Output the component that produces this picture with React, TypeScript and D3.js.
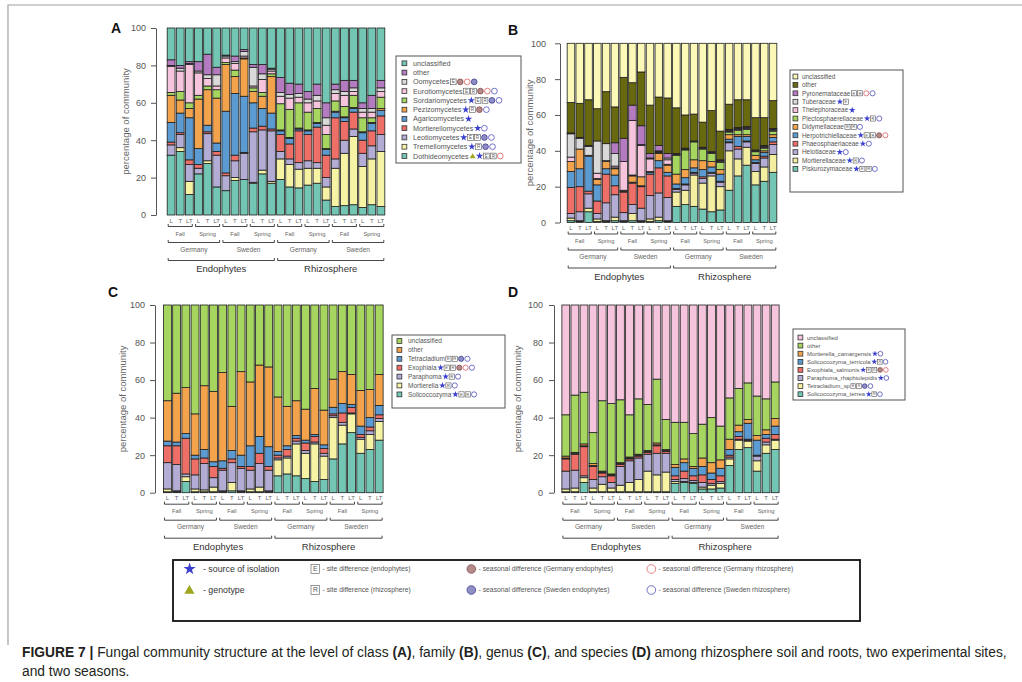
import React, { useEffect, useRef } from "react";
import * as d3 from "d3";

const W = 1022;
const H = 682;
const FONT = "'Liberation Sans', Arial, Helvetica, sans-serif";

// Sample hierarchy: compartment > site > season > tissue
const tissues = ["L", "T", "LT"];
const seasons = ["Fall", "Spring"];
const sites = ["Germany", "Sweden"];
const compartments = ["Endophytes", "Rhizosphere"];
const yTicks = [0, 20, 40, 60, 80, 100];

// Palette
const teal = "#72c6b3";
const yellow = "#f7f3a4";
const lavender = "#b3acd4";
const red = "#ee6f67";
const blue = "#5b9bd1";
const orange = "#f4a34d";
const green = "#a6d560";
const pink = "#f6c4dc";
const lightGray = "#d9d9d9";
const purple = "#b57bc0";
const olive = "#68680e";
const paleYellow = "#fbf8b8";

// ---- A: class level (relative abundance, %) ----
const dothideomycetes = [32, 34, 11, 22, 27.5, 15, 13, 18.5, 19, 17, 22, 17, 19, 15, 14.5, 16, 17, 8, 4.5, 5, 5.5, 4, 5.5, 4.5];
const tremellomycetes = [0, 2, 7, 0, 1.5, 0, 0, 1.5, 0, 0.5, 2, 1, 11, 12, 10, 9, 8, 7, 20.5, 28, 36.5, 22, 24.5, 29.5];
const leotiomycetes = [5.5, 7, 9, 3, 14.5, 17, 8, 9, 14, 27, 21.5, 27, 4, 3, 3.5, 4, 3, 5, 5, 7, 4, 7, 7, 9];
const mortierellomycetes = [1.5, 1, 2.5, 2, 1, 2, 1.5, 3, 0.5, 2, 2, 1, 9, 8, 17, 14, 19, 12, 22, 10, 9, 7, 8, 10];
const agaricomycetes = [10.5, 10.5, 22.5, 8.5, 3.5, 4.5, 33, 33, 30, 13.5, 9.5, 8.5, 2, 3, 1, 2, 2, 3, 3, 2, 2, 4, 4, 3];
const pezizomycetes = [14.5, 7, 5, 26.5, 19, 24, 25, 9, 20, 6, 6.5, 19.5, 0.5, 0.5, 0.5, 0.5, 0.5, 0.5, 0.5, 0.5, 0.5, 0.5, 0.5, 1];
const sordariomycetes = [1.5, 4.5, 3, 2, 2, 4.5, 1, 3.5, 0.5, 2, 2, 1.5, 14, 15, 13.5, 9.5, 7.5, 7.5, 5.5, 5.5, 6.5, 7.5, 2.5, 6];
const eurotiomycetes = [14, 11, 20.5, 12, 4, 2, 2.5, 3.5, 1, 1, 7, 1.5, 4, 6, 3, 5, 4, 5, 4, 6, 2, 3, 3, 3];
const oomycetes = [0.5, 1.5, 0.5, 1, 2, 6, 1, 1, 2.5, 10, 3, 1, 2, 2, 2, 2, 3, 4, 2, 2, 2, 2, 2, 2];
const otherClass = [3, 1.5, 1, 5, 11, 4, 0.5, 3, 1, 1.5, 5, 0.5, 8, 6, 5, 4, 6, 8, 3, 6, 4, 3, 7, 4];
const unclassifiedClass = [17, 20, 18, 18, 14, 21, 14.5, 15, 11.5, 19.5, 19.5, 21.5, 26.5, 29.5, 30, 34, 30, 40, 30, 28, 28, 40, 36, 28];

// ---- B: family level ----
const piskurozymaceae = [1, 0.5, 6, 0.5, 0.5, 1, 0.5, 1, 0.5, 0.5, 1, 0.5, 9, 10, 9, 7.5, 6, 7, 18, 26, 32, 21, 23, 28];
const mortierellaceae = [1.5, 0.5, 2, 1.5, 0.5, 2, 0.5, 4, 0.5, 1.5, 2, 0.5, 8, 8, 17.5, 14.5, 20, 13, 22, 9.5, 10, 7.5, 8, 10];
const helotiaceae = [2.5, 5, 8, 3, 10, 12.5, 4.5, 5, 7, 13, 13.5, 13, 1.5, 3, 1, 2.5, 1.5, 2.5, 4.5, 5.5, 3, 4.5, 5, 5.5];
const phaeosphaeriaceae = [14.5, 14, 1.5, 7, 16, 5, 11.5, 12, 12, 12, 14, 12, 0.5, 0.5, 0.5, 1, 0.5, 0.5, 0.5, 1.5, 0.5, 0.5, 1, 1.5];
const herpotrichiellaceae = [9, 10, 19.5, 9, 3, 6, 0.5, 0.5, 0.5, 1, 4, 2, 2.5, 3.5, 2.5, 4, 3, 4, 1.5, 5.5, 2.5, 1.5, 2, 2.5];
const didymellaceae = [5.5, 11, 0.5, 3, 4, 3.5, 0.5, 3.5, 5, 0.5, 4, 4, 5.5, 4.5, 4.5, 5, 3, 2.5, 2.5, 1, 1, 2.5, 1, 1.5];
const plectosphaerellaceae = [0, 0, 0, 0.5, 0, 0.5, 0, 0.5, 0, 0, 0.5, 0.5, 10.5, 11, 10, 6.5, 4.5, 4, 1.5, 2.5, 3, 2, 1.5, 2];
const thelephoraceae = [2.5, 0, 0, 3, 0.5, 1, 16, 30.5, 17.5, 7, 0.5, 2.5, 0.5, 0.5, 0, 0.5, 0.5, 0.5, 0.5, 0.5, 0.5, 0.5, 0.5, 0.5];
const tuberaceae = [13, 6, 5, 18, 9.5, 7, 0, 0, 0.5, 0.5, 0.5, 1, 0, 0, 0, 0, 0, 0.5, 0.5, 0.5, 0.5, 0.5, 0.5, 0.5];
const pyronemataceae = [0.5, 0.5, 0.5, 0, 0, 6, 13, 8.5, 10.5, 2.5, 3, 2.5, 0.5, 0.5, 0.5, 0.5, 0.5, 0.5, 0.5, 0.5, 0.5, 0, 0.5, 0.5];
const otherFamily = [17, 19, 25.5, 18, 29, 20, 34, 12.5, 30, 27, 27, 31, 25.5, 18.5, 15, 14, 23, 16, 14, 15.5, 15, 18, 15.5, 15.5];
const unclassifiedFamily = [33, 33.5, 31.5, 36.5, 27, 35.5, 19, 22, 16, 34.5, 30, 30.5, 36, 40, 39.5, 44, 37.5, 49, 34, 31.5, 31.5, 41.5, 41.5, 32];

// ---- C: genus level ----
const solicoccozyma = [0.5, 0.5, 6, 0.5, 0.5, 0.5, 0.5, 1, 0.5, 0.5, 0.5, 0.5, 9, 10, 9, 7.5, 6, 7, 18, 26, 32, 21, 23, 28];
const mortierella = [1.5, 0.5, 2.5, 1.5, 1, 2.5, 0.5, 4.5, 0.5, 1.5, 2.5, 0.5, 8.5, 8.5, 17, 13.5, 20, 12.5, 22, 10, 10, 7.5, 8, 10];
const paraphoma = [14, 14, 1.5, 7.5, 14, 5, 11, 10.5, 12, 10, 12.5, 11, 1, 1, 1.5, 1.5, 1, 1.5, 1, 1.5, 0.5, 1, 2, 1.5];
const exophiala = [9, 10, 19, 8.5, 3, 6, 1, 2, 1, 2, 5.5, 2, 1.5, 3.5, 1.5, 4, 3, 2.5, 1, 5, 3, 1.5, 2, 2];
const tetracladium = [2.5, 2, 2.5, 2, 4.5, 2.5, 4, 4.5, 6, 11, 9, 10.5, 2, 2, 1.5, 1.5, 1, 2, 3.5, 5, 1.5, 4.5, 5, 5];
const otherGenus = [21.5, 26, 24.5, 22, 34, 37.5, 47, 23.5, 44.5, 34, 38, 42.5, 29, 21, 18.5, 16.5, 24.5, 18.5, 15, 17, 16, 19, 15, 16.5];
const unclassifiedGenus = [51, 47, 44, 58, 43, 46, 36, 54, 35.5, 41, 32, 33, 49, 54, 51, 55.5, 44.5, 56, 39.5, 35.5, 37, 45.5, 45, 37];

// ---- D: species level ----
const solicoccozymaTerrea = [0.5, 0.5, 5.5, 0.5, 0.5, 0.5, 0.5, 0.5, 0.5, 0.5, 0.5, 0.5, 5, 5.5, 5, 2, 2, 2.5, 14.5, 23, 24, 11.5, 21, 23];
const tetracladiumSp = [1.5, 2, 2.5, 2, 4, 2, 3.5, 5, 6.5, 11, 9, 10.5, 1, 0.5, 0.5, 1, 2, 2.5, 3.5, 5, 3.5, 5.5, 4.5, 5];
const paraphomaRhaphiolepidis = [9.5, 9.5, 1, 4.5, 4, 3, 10, 11.5, 11.5, 9, 11.5, 10, 1, 1.5, 1, 2.5, 1, 1, 1, 0.5, 0.5, 2.5, 1.5, 0.5];
const exophialaSalmonis = [6.5, 8.5, 15.5, 7, 2, 3.5, 1, 1, 1, 1, 4, 1, 2, 4, 2.5, 4, 2, 3, 1, 1.5, 0.5, 0.5, 2, 2.5];
const solicoccozymaTerricola = [0.5, 0.5, 0.5, 0.5, 0.5, 0.5, 0.5, 0.5, 0.5, 0.5, 0.5, 0.5, 4.5, 4.5, 4, 4.5, 3.5, 4, 3, 2.5, 8.5, 8, 2, 4.5];
const mortierellaCamargensis = [1, 0.5, 1, 1, 0.5, 0.5, 0.5, 0.5, 0.5, 0.5, 1, 0.5, 1.5, 2, 1, 4.5, 5.5, 4.5, 5.5, 3.5, 2, 2.5, 2.5, 4];
const otherSpecies = [22, 30.5, 27.5, 16.5, 37.5, 37.5, 33.5, 22.5, 29.5, 24.5, 34, 16, 22.5, 19.5, 17.5, 18, 24, 18, 22, 19.5, 19.5, 21, 16.5, 19.5];
const unclassifiedSpecies = [58.5, 48, 46.5, 68, 51, 52.5, 50.5, 58.5, 50, 53, 39.5, 61, 62.5, 62.5, 68.5, 63.5, 60, 64.5, 49.5, 44.5, 41.5, 48.5, 50, 41];

// Significance marks: star = source of isolation, tri = genotype,
// E / R = site difference, gE / sE / gR / sR = seasonal differences
type Mark = "star" | "tri" | "E" | "R" | "gE" | "sE" | "gR" | "sR";
interface Series { name: string; color: string; values: number[]; marks: Mark[] }

// stacking order: bottom -> top
const classSeries: Series[] = [
  { name: "Dothideomycetes", color: teal, values: dothideomycetes, marks: ["tri", "star", "E", "R", "gR"] },
  { name: "Tremellomycetes", color: yellow, values: tremellomycetes, marks: ["star", "R", "sE", "sR"] },
  { name: "Leotiomycetes", color: lavender, values: leotiomycetes, marks: ["star", "E", "R", "sE", "sR"] },
  { name: "Mortierellomycetes", color: red, values: mortierellomycetes, marks: ["star", "sR"] },
  { name: "Agaricomycetes", color: blue, values: agaricomycetes, marks: ["star"] },
  { name: "Pezizomycetes", color: orange, values: pezizomycetes, marks: ["star", "R", "gE", "sR"] },
  { name: "Sordariomycetes", color: green, values: sordariomycetes, marks: ["star", "E", "R", "sE", "sR"] },
  { name: "Eurotiomycetes", color: pink, values: eurotiomycetes, marks: ["E", "R", "gE", "gR", "sR"] },
  { name: "Oomycetes", color: lightGray, values: oomycetes, marks: ["E", "gE", "gR", "sE"] },
  { name: "other", color: purple, values: otherClass, marks: [] },
  { name: "unclassified", color: teal, values: unclassifiedClass, marks: [] },
];

const familySeries: Series[] = [
  { name: "Piskurozymaceae", color: teal, values: piskurozymaceae, marks: ["star", "E", "R", "sR"] },
  { name: "Mortierellaceae", color: "#f4efa0", values: mortierellaceae, marks: ["star", "R", "sR"] },
  { name: "Helotiaceae", color: lavender, values: helotiaceae, marks: ["star", "sR"] },
  { name: "Phaeosphaeriaceae", color: red, values: phaeosphaeriaceae, marks: ["star", "sR"] },
  { name: "Herpotrichiellaceae", color: blue, values: herpotrichiellaceae, marks: ["star", "E", "R", "gE", "gR"] },
  { name: "Didymellaceae", color: orange, values: didymellaceae, marks: ["E", "R", "sR"] },
  { name: "Plectosphaerellaceae", color: green, values: plectosphaerellaceae, marks: ["star", "R", "sR"] },
  { name: "Thelephoraceae", color: pink, values: thelephoraceae, marks: ["star"] },
  { name: "Tuberaceae", color: lightGray, values: tuberaceae, marks: ["star", "E"] },
  { name: "Pyronemataceae", color: purple, values: pyronemataceae, marks: ["E", "R", "gR", "sR"] },
  { name: "other", color: olive, values: otherFamily, marks: [] },
  { name: "unclassified", color: paleYellow, values: unclassifiedFamily, marks: [] },
];

const genusSeries: Series[] = [
  { name: "Solicoccozyma", color: teal, values: solicoccozyma, marks: ["star", "E", "R", "sR"] },
  { name: "Mortierella", color: yellow, values: mortierella, marks: ["star", "R", "sR"] },
  { name: "Paraphoma", color: lavender, values: paraphoma, marks: ["star", "R", "sR"] },
  { name: "Exophiala", color: red, values: exophiala, marks: ["star", "E", "R", "gE", "gR", "sR"] },
  { name: "Tetracladium", color: blue, values: tetracladium, marks: ["E", "R", "sE", "sR"] },
  { name: "other", color: orange, values: otherGenus, marks: [] },
  { name: "unclassified", color: green, values: unclassifiedGenus, marks: [] },
];

const speciesSeries: Series[] = [
  { name: "Solicoccozyma_terrea", color: teal, values: solicoccozymaTerrea, marks: ["star", "R", "sR"] },
  { name: "Tetracladium_sp", color: yellow, values: tetracladiumSp, marks: ["E", "R", "sE", "sR"] },
  { name: "Paraphoma_rhaphiolepidis", color: lavender, values: paraphomaRhaphiolepidis, marks: ["star", "sR"] },
  { name: "Exophiala_salmonis", color: red, values: exophialaSalmonis, marks: ["star", "E", "R", "gE", "gR"] },
  { name: "Solicoccozyma_terricola", color: blue, values: solicoccozymaTerricola, marks: ["star", "R", "sR"] },
  { name: "Mortierella_camargensis", color: orange, values: mortierellaCamargensis, marks: ["star", "sR"] },
  { name: "other", color: green, values: otherSpecies, marks: [] },
  { name: "unclassified", color: pink, values: unclassifiedSpecies, marks: [] },
];

interface LegendBox { x: number; y: number; w: number; h: number; firstY: number; step: number; swX: number; textX: number; fs: number }
interface Panel {
  letter: string; letterX: number; letterY: number;
  left: number; right: number; y0: number; y100: number;
  axisX: number; tickPad: number; titleX: number;
  series: Series[]; legend: LegendBox;
}

const panels: Panel[] = [
  {
    letter: "A", letterX: 111, letterY: 33, left: 167, right: 385, y0: 215, y100: 28,
    axisX: 156, tickPad: 5, titleX: 129, series: classSeries,
    legend: { x: 396, y: 56, w: 125, h: 107, firstY: 63.3, step: 9.27, swX: 402, textX: 413, fs: 7.2 },
  },
  {
    letter: "B", letterX: 508, letterY: 35, left: 567, right: 777, y0: 222.5, y100: 43.3,
    axisX: 560, tickPad: 9, titleX: 533, series: familySeries,
    legend: { x: 790, y: 70, w: 113, h: 122, firstY: 76.5, step: 8.4, swX: 793, textX: 802, fs: 6.4 },
  },
  {
    letter: "C", letterX: 108, letterY: 297, left: 163.3, right: 383.3, y0: 492.7, y100: 305,
    axisX: 155, tickPad: 5, titleX: 126, series: genusSeries,
    legend: { x: 392, y: 335, w: 113, h: 73, firstY: 341, step: 8.9, swX: 397, textX: 408, fs: 6.5 },
  },
  {
    letter: "D", letterX: 508, letterY: 297, left: 561.7, right: 779.3, y0: 492.7, y100: 305,
    axisX: 554, tickPad: 6, titleX: 521, series: speciesSeries,
    legend: { x: 793, y: 329, w: 112, h: 71, firstY: 337.5, step: 8.1, swX: 798, textX: 807, fs: 5.9 },
  },
];

const STAR = "#3b3fce";
const GENO = "#9ea51e";

type Sel = d3.Selection<SVGGElement, unknown, null, undefined>;

// draws one significance mark whose left edge is at cx; returns the advance width
function drawMark(g: Sel, m: Mark, cx: number, cy: number, s: number): number {
  if (m === "star") {
    g.append("path").attr("d", d3.symbol(d3.symbolStar, 16 * s * s)()!)
      .attr("transform", `translate(${cx + 3.3 * s},${cy})`).attr("fill", STAR);
    return 7 * s;
  }
  if (m === "tri") {
    g.append("path").attr("d", d3.symbol(d3.symbolTriangle, 14 * s * s)()!)
      .attr("transform", `translate(${cx + 3 * s},${cy + 0.5 * s})`).attr("fill", GENO);
    return 6.5 * s;
  }
  if (m === "E" || m === "R") {
    const b = 5.6 * s;
    g.append("rect").attr("x", cx).attr("y", cy - b / 2).attr("width", b).attr("height", b)
      .attr("fill", "#fff").attr("stroke", "#555").attr("stroke-width", 0.6);
    g.append("text").attr("x", cx + b / 2).attr("y", cy + 1.5 * s).attr("text-anchor", "middle")
      .attr("font-size", 4.4 * s).attr("fill", "#555").text(m);
    return b + 1.2 * s;
  }
  const r = 2.8 * s;
  const style: Record<string, [string, string]> = {
    gE: ["#b38b8b", "#7d3b3b"],
    sE: ["#8f8fc6", "#30308a"],
    gR: ["#ffffff", "#d84a4a"],
    sR: ["#ffffff", "#3a3ab5"],
  };
  const [fill, stroke] = style[m];
  g.append("circle").attr("cx", cx + r).attr("cy", cy).attr("r", r)
    .attr("fill", fill).attr("stroke", stroke).attr("stroke-width", 0.7);
  return 2 * r + 1.2 * s;
}

function bracket(g: Sel, x1: number, x2: number, yb: number) {
  g.append("path").attr("d", `M${x1},${yb - 2.5}V${yb}H${x2}V${yb - 2.5}`)
    .attr("fill", "none").attr("stroke", "#333").attr("stroke-width", 0.9);
}

function drawPanel(root: Sel, p: Panel) {
  const g = root.append("g").attr("font-family", FONT);
  const n = tissues.length * seasons.length * sites.length * compartments.length;
  const keys = p.series.map((s) => s.name);
  const rows = d3.range(n).map((i) => {
    const r: Record<string, number> = {};
    p.series.forEach((s) => { r[s.name] = s.values[i]; });
    return r;
  });
  const layers = d3.stack<Record<string, number>>().keys(keys).offset(d3.stackOffsetExpand)(rows);

  const x = d3.scaleBand<number>().domain(d3.range(n)).range([p.left, p.right]).paddingInner(0.14).paddingOuter(0.02);
  const y = d3.scaleLinear().domain([0, 100]).range([p.y0, p.y100]);
  const bw = x.bandwidth();

  layers.forEach((layer, li) => {
    const segs = layer.map((d, i) => ({ i, lo: d[0] * 100, hi: d[1] * 100 })).filter((d) => d.hi > d.lo);
    g.append("g").selectAll("rect").data(segs).join("rect")
      .attr("x", (d) => x(d.i)!)
      .attr("width", bw)
      .attr("y", (d) => y(d.hi))
      .attr("height", (d) => y(d.lo) - y(d.hi))
      .attr("fill", p.series[li].color)
      .attr("stroke", "#1e1e1e")
      .attr("stroke-width", 0.8);
  });

  // y axis
  const ax = g.append("g").attr("transform", `translate(${p.axisX},0)`)
    .call(d3.axisLeft(y).tickValues(yTicks).tickSize(5).tickSizeOuter(0).tickPadding(p.tickPad));
  ax.attr("font-family", FONT).attr("font-size", 9);
  ax.select(".domain").attr("stroke", "#555");
  ax.selectAll(".tick line").attr("stroke", "#555");
  ax.selectAll(".tick text").attr("fill", "#555");

  g.append("text")
    .attr("transform", `translate(${p.titleX},${(p.y0 + p.y100) / 2}) rotate(-90)`)
    .attr("text-anchor", "middle").attr("font-size", 9.5).attr("fill", "#666")
    .text("percentage of community");

  g.append("text").attr("x", p.letterX).attr("y", p.letterY)
    .attr("font-size", 14).attr("font-weight", "bold").attr("fill", "#111").text(p.letter);

  // tissue labels
  g.append("g").selectAll("text").data(d3.range(n)).join("text")
    .attr("x", (i) => x(i)! + bw / 2).attr("y", p.y0 + 7.5)
    .attr("text-anchor", "middle").attr("font-size", 6).attr("fill", "#666")
    .text((i) => tissues[i % tissues.length]);

  // nested group brackets
  const levels = [
    { size: 3, labels: seasons, yb: 11.5, ly: 20.5, fs: 5.8, fill: "#666" },
    { size: 6, labels: sites, yb: 27.5, ly: 36.5, fs: 6.6, fill: "#666" },
    { size: 12, labels: compartments, yb: 45.5, ly: 57, fs: 9.5, fill: "#333" },
  ];
  levels.forEach((lv) => {
    d3.range(n / lv.size).forEach((k) => {
      const x1 = x(k * lv.size)! + 1;
      const x2 = x(k * lv.size + lv.size - 1)! + bw - 1;
      bracket(g, x1, x2, p.y0 + lv.yb);
      g.append("text").attr("x", (x1 + x2) / 2).attr("y", p.y0 + lv.ly)
        .attr("text-anchor", "middle").attr("font-size", lv.fs).attr("fill", lv.fill)
        .text(lv.labels[k % lv.labels.length]);
    });
  });

  // legend
  const L = p.legend;
  const lg = g.append("g");
  lg.append("rect").attr("x", L.x).attr("y", L.y).attr("width", L.w).attr("height", L.h)
    .attr("fill", "#fff").attr("stroke", "#555").attr("stroke-width", 1);
  const s = L.fs / 7;
  p.series.slice().reverse().forEach((ser, i) => {
    const cy = L.firstY + i * L.step;
    lg.append("rect").attr("x", L.swX).attr("y", cy - 2.4).attr("width", 4.8).attr("height", 4.8)
      .attr("fill", ser.color).attr("stroke", "#333").attr("stroke-width", 0.8);
    const t = lg.append("text").attr("x", L.textX).attr("y", cy + L.fs * 0.35)
      .attr("font-size", L.fs).attr("fill", "#555").text(ser.name);
    let cx = L.textX + (t.node() as SVGTextElement).getComputedTextLength() + 1;
    ser.marks.forEach((m) => { cx += drawMark(lg, m, cx, cy, s); });
  });
}

function drawKey(root: Sel) {
  const g = root.append("g").attr("font-family", FONT);
  g.append("rect").attr("x", 173).attr("y", 560).attr("width", 687).attr("height", 61)
    .attr("fill", "#fff").attr("stroke", "#111").attr("stroke-width", 1.8);
  const r1 = 569;
  const r2 = 590;
  drawMark(g, "star", 184, r1, 1.7);
  g.append("text").attr("x", 203).attr("y", r1 + 3).attr("font-size", 8.8).attr("fill", "#333").text("- source of isolation");
  drawMark(g, "tri", 184, r2, 1.8);
  g.append("text").attr("x", 203).attr("y", r2 + 3).attr("font-size", 8.8).attr("fill", "#333").text("- genotype");

  const items: { m: Mark; x: number; y: number; label: string }[] = [
    { m: "E", x: 311, y: r1, label: "- site difference (endophytes)" },
    { m: "R", x: 311, y: r2, label: "- site difference (rhizosphere)" },
    { m: "gE", x: 467, y: r1, label: "- seasonal difference (Germany endophytes)" },
    { m: "sE", x: 467, y: r2, label: "- seasonal difference (Sweden endophytes)" },
    { m: "gR", x: 647, y: r1, label: "- seasonal difference (Germany rhizosphere)" },
    { m: "sR", x: 647, y: r2, label: "- seasonal difference (Sweden rhizosphere)" },
  ];
  items.forEach((it) => {
    const w = drawMark(g, it.m, it.x, it.y, 1.55);
    g.append("text").attr("x", it.x + w + 1).attr("y", it.y + 2.3)
      .attr("font-size", 6.8).attr("fill", "#555").text(it.label);
  });
}

function drawCaption(root: Sel) {
  const t1 = root.append("text").attr("x", 22).attr("y", 657)
    .attr("font-family", FONT).attr("font-size", 13.8).attr("fill", "#231f20");
  const parts: [string, boolean][] = [
    ["FIGURE 7 |", true],
    [" Fungal community structure at the level of class ", false],
    ["(A)", true], [", family ", false], ["(B)", true], [", genus ", false],
    ["(C)", true], [", and species ", false], ["(D)", true],
    [" among rhizosphere soil and roots, two experimental sites,", false],
  ];
  parts.forEach(([txt, b]) => {
    t1.append("tspan").attr("font-weight", b ? "bold" : "normal").text(txt);
  });
  root.append("text").attr("x", 22).attr("y", 676)
    .attr("font-family", FONT).attr("font-size", 13.8).attr("fill", "#231f20")
    .text("and two seasons.");
}

export default function App() {
  const ref = useRef<SVGSVGElement>(null);
  useEffect(() => {
    if (!ref.current) return;
    const svg = d3.select(ref.current);
    svg.selectAll("*").remove();
    const root = svg.append("g") as unknown as Sel;
    root.append("rect").attr("width", W).attr("height", H).attr("fill", "#fff");
    // page frame
    root.append("path").attr("d", `M8,645V5H${W}`).attr("fill", "none")
      .attr("stroke", "#a0a0a0").attr("stroke-width", 1.2);
    panels.forEach((p) => drawPanel(root, p));
    drawKey(root);
    drawCaption(root);
  }, []);
  return (
    <svg ref={ref} width={W} height={H}
      style={{ position: "absolute", left: 0, top: 0, display: "block", background: "#fff" }} />
  );
}
